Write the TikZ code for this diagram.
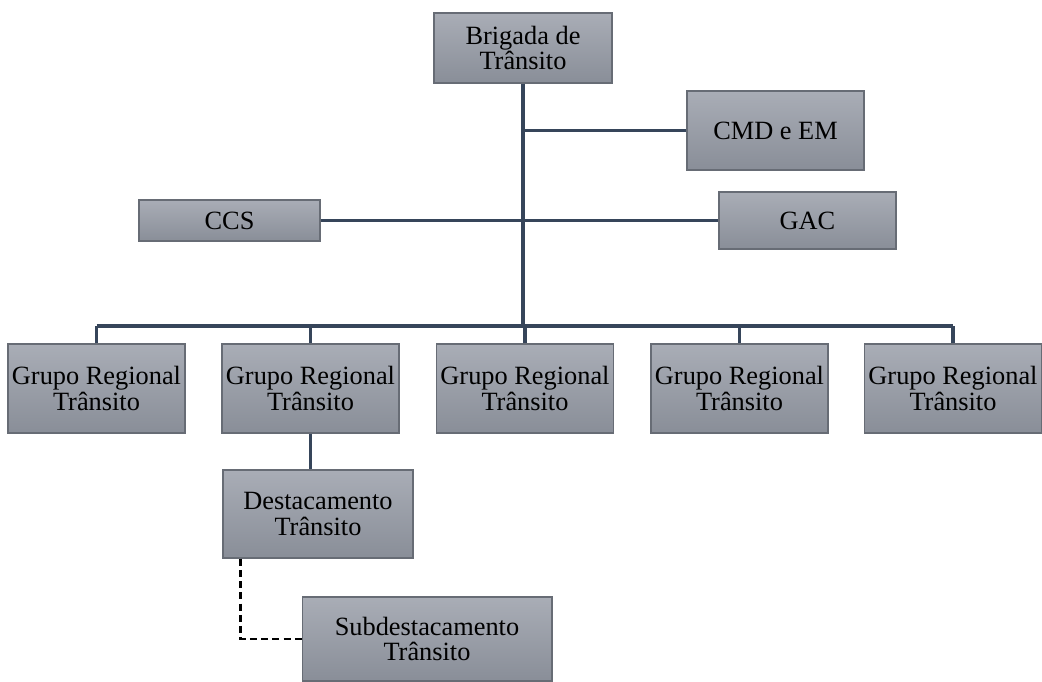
\documentclass[tikz,border=0pt]{standalone}
\usepackage{fontspec}
\setmainfont{Liberation Serif}
\definecolor{boxtop}{HTML}{A9ADB6}
\definecolor{boxbot}{HTML}{898E98}
\definecolor{boxline}{HTML}{676C75}
\definecolor{linkcol}{HTML}{36455A}
\begin{document}
\begin{tikzpicture}[
            x=0.02cm, y=-0.02cm,
            unit/.style={rectangle, draw=boxline, line width=0.6pt,
                top color=boxtop, bottom color=boxbot, align=center,
                inner sep=0pt, font=\fontsize{15}{14.5}\selectfont},
            group/.style={unit, minimum width=3.54cm, minimum height=1.78cm},
            link/.style={draw=linkcol, line width=1.8pt},
            sublink/.style={draw=black, line width=1.5pt, dash pattern=on 4pt off 2.4pt},
        ]
        \useasboundingbox (0,0) rectangle (1042,681);
        % top of the tree
        \node[unit, minimum width=3.56cm, minimum height=1.40cm] (brig) at (523,48) {Brigada de\\Trânsito};
        \node[unit, minimum width=3.54cm, minimum height=1.58cm] (cmd) at (775.5,130.5) {CMD e EM};
        \node[unit, minimum width=3.62cm, minimum height=0.82cm] (ccs) at (229.5,220.5) {CCS};
        \node[unit, minimum width=3.54cm, minimum height=1.14cm] (gac) at (807.5,220.5) {GAC};
        % regional groups
        \foreach \name/\cx in {g1/96.5, g2/310.5, g3/525, g4/739.5, g5/953}
            \node[group] (\name) at (\cx,388.5) {Grupo Regional\\Trânsito};
        \node[unit, minimum width=3.80cm, minimum height=1.76cm] (dest) at (318,514) {Destacamento\\Trânsito};
        \node[unit, minimum width=5.00cm, minimum height=1.68cm] (sub) at (427,639) {Subdestacamento\\Trânsito};
        \coordinate (bus) at (523,326);
        \coordinate (dtap) at ([xshift=0.36cm]dest.south west);
        % connectors
        \draw[link] (brig.south) -- (bus);
        \draw[link] (cmd.west) -- (cmd.west -| brig.south);
        \draw[link] (ccs.east) -- (gac.west);
        \draw[link] (g1.north |- bus) -- (g5.north |- bus);
        \foreach \name in {g1, g2, g3, g4, g5}
            \draw[link] (\name.north) -- (\name.north |- bus);
        \draw[link] (g2.south) -- (g2.south |- dest.north);
        \draw[sublink] (dtap) |- (sub.west);
\end{tikzpicture}
\end{document}
